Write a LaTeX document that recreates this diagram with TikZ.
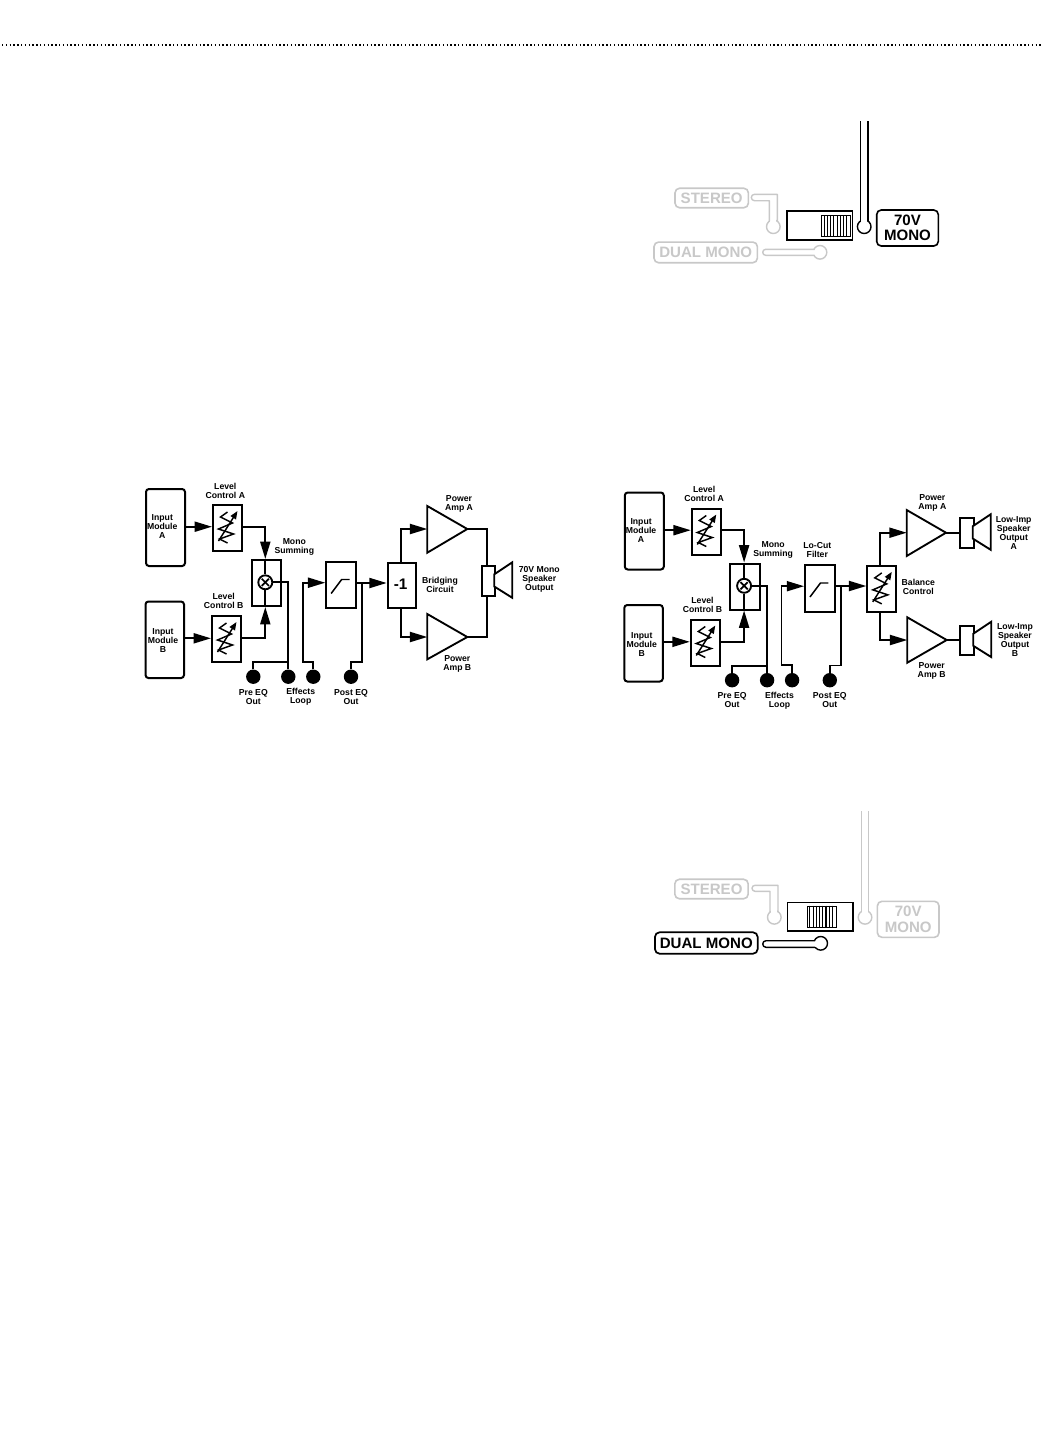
\documentclass[tikz,border=0pt]{standalone}
\usepackage{fontspec}
\setmainfont{Liberation Sans}
\usetikzlibrary{arrows.meta,calc}
\definecolor{faded}{HTML}{C8C8C8}
\tikzset{
  px/.style={x=0.75pt,y=-0.75pt},
  wire/.style={line width=1.45pt,line join=miter,line cap=butt},
  flow/.style={wire,-{Triangle[length=13pt,width=7.5pt]}},
  blockbox/.style={draw,line width=1.5pt,fill=white,inner sep=0pt},
  module/.style={draw,line width=1.5pt,rounded corners=2.2pt,fill=white,inner sep=0pt},
  amp/.style={draw,line width=1.4pt,fill=white,line join=miter},
  jack/.style={circle,fill=black,draw=none,minimum size=10.8pt,inner sep=0pt},
  lab/.style={font=\fontsize{6.5}{6.75}\selectfont\bfseries,align=center,inner sep=0pt,text=black},
  sumring/.style={circle,draw,line width=1.4pt,fill=white,minimum size=10.5pt,inner sep=0pt},
  tag/.style={draw,rounded corners=3.4pt,line width=1.2pt,inner sep=0pt,align=center,
     font=\fontsize{11.3}{11.6}\selectfont\bfseries},
  tube/.style={line width=1.05pt,line join=round},
  ring/.style={circle,draw,line width=1.05pt,fill=white,minimum size=10.2pt,inner sep=0pt},
  gapmask/.style={draw=white,line width=4.7pt},
  switchbody/.style={draw=black,line width=1.2pt,fill=white,inner sep=0pt},
}
% block at given corners: style, x1,y1,x2,y2, name
\newcommand{\cornerbox}[6][blockbox]{%
  \node[#1,minimum width=#4*0.75pt-#2*0.75pt,minimum height=#5*0.75pt-#3*0.75pt,anchor=north west] (#6) at (#2,#3) {};}
% potentiometer symbol around a node
\newcommand{\potsym}[1]{%
  \draw[line width=1.1pt,line join=miter] ($(#1)+(0,-16)$) -- ++(-7,5) -- ++(12,6) -- ++(-14,6) -- ++(15,5) -- ++(-14,5) -- ++(8,4);
  \draw[line width=1.1pt,-{Triangle[length=6pt,width=4.6pt]}] ($(#1)+(-9,13)$) -- ($(#1)+(10,-17)$);}
% shared front end
\newcommand{\frontend}[1]{%
\begin{scope}[name prefix=#1]
  \cornerbox[module]{145}{488}{184}{565}{inA}
  \cornerbox[module]{144.5}{600.5}{183}{677}{inB}
  \cornerbox{212}{504}{241}{550}{lvA}
  \cornerbox{211}{615}{240}{661}{lvB}
  \cornerbox{250.5}{559}{280}{605}{sumb}
  \cornerbox{325.3}{560.7}{355}{607.3}{filt}
  \node[sumring] (sum) at (265.3,582.3) {};
  \draw[line width=1.3pt] ($(sum)+(-3.6,-3.6)$) -- ($(sum)+(3.6,3.6)$);
  \draw[line width=1.3pt] ($(sum)+(-3.6,3.6)$) -- ($(sum)+(3.6,-3.6)$);
  \node[jack] (pre) at (253.3,676.7) {};
  \node[jack] (fx) at (288.3,676.7) {};
  \node[jack] (ret) at (313.3,676.7) {};
  \node[jack] (post) at (351,676.7) {};
  \potsym{lvA}\potsym{lvB}
  \draw[flow] (inA.east|-0,526.7) -- (lvA.west|-0,526.7);
  \draw[flow] (inB.east|-0,638.3) -- (lvB.west|-0,638.3);
  \draw[wire] (lvA.east|-0,526.7) -| (sum.north|-0,540);
  \draw[flow] (sum.north|-0,540) -- (sum.north|-sumb.north);
  \draw[wire] (lvB.east|-0,638.3) -| (sum.south|-0,622);
  \draw[flow] (sum.south|-0,622) -- (sum.south|-sumb.south);
  \draw[wire] (sumb.north-|sum.north) -- (sum.north);
  \draw[wire] (sumb.south-|sum.south) -- (sum.south);
  \draw[wire] (sum.east) -| (fx.north);
  \draw[wire] (pre.north) |- (288.3,662.3);
  \draw[wire] (ret.north) |- (302.7,661.7) -- (302.7,582.7) -- (309,582.7);
  \draw[flow] (309,582.7) -- (filt.west|-0,582.7);
  \draw[line width=1.1pt] ($(filt)+(-10,8.5)$) -- ($(filt)+(0.5,-5.5)$) -- ($(filt)+(8.5,-5.5)$);
  \draw[wire] (post.north) |- (362.3,662) -- (362.3,583);
  \node[lab] at (225.3,490.5) {Level\\Control A};
  \node[lab] at (223.7,601.2) {Level\\Control B};
  \node[lab] at (162.3,526.7) {Input\\Module\\A};
  \node[lab] at (163,641) {Input\\Module\\B};
  \node[lab] at (294.3,546.5) {Mono\\Summing};
  \node[lab] at (253.3,696.8) {Pre EQ\\Out};
  \node[lab] at (300.7,696.8) {Effects\\Loop};
  \node[lab] at (351,696.8) {Post EQ\\Out};
\end{scope}}
% speaker: name, x1,y1,x2,y2 and horn
\newcommand{\speaker}[5]{%
  \cornerbox{#2}{#3}{#4}{#5}{#1}
  \draw[amp] (#4,#3+9) -- (#4+18,#3-3) -- (#4+18,#5+2.8) -- (#4,#5-8.5) -- cycle;}
% stripe slider
\newcommand{\slider}[5]{%
  \node[draw=black,line width=0.9pt,fill=white,inner sep=0pt,minimum width=#4*0.75pt-#2*0.75pt,minimum height=#5*0.75pt-#3*0.75pt,anchor=north west] (#1) at (#2,#3) {};
  \foreach \i in {1,...,8} \draw[line width=0.8pt] ($(#1.north west)+(\i*3.22,0)$) -- ($(#1.south west)+(\i*3.22,0)$);}
\begin{document}
\begin{tikzpicture}[px]
\useasboundingbox[fill=white] (0,0) rectangle (1044,1440);
\coordinate (ruleL) at (2,45);
\coordinate (ruleR) at (1041,45);
\draw[line width=0.95pt,dash pattern=on 1pt off 1.85pt] (ruleL) -- (ruleR);

% ---------- top switch panel (70V MONO)
\begin{scope}[name prefix=t-]
  \cornerbox[switchbody]{786}{210.3}{851.7}{239}{sw}
  \slider{slide}{821}{215}{850}{235.7}
  \coordinate (pa) at (860.3,121);
  \coordinate (pb) at (868,121);
  \node[ring,draw=black] (rv) at (864.2,226.7) {};
  \draw[gapmask] (864.2,217) -- (864.2,222.5);
  \draw[tube,draw=black] (pa) -- (pa|-0,221);
  \draw[tube,draw=black] (pb) -- (pb|-0,221);
  \node[tag,minimum width=46.2pt,minimum height=27pt] (v) at (907.5,228) {70V\\MONO};
  \node[tag,draw=faded,text=faded,minimum width=55pt,minimum height=14.6pt] (st) at (711.7,198) {STEREO};
  \node[ring,draw=faded] (rs) at (773.3,226.7) {};
  \draw[gapmask] (773.3,217) -- (773.3,222.5);
  \draw[tube,draw=faded] (777.3,221) -- (777.3,194.3) -- (754.5,194.3) arc[start angle=270,end angle=90,radius=3.2] -- (769.3,200.7) -- (769.3,221);
  \node[tag,draw=faded,text=faded,minimum width=77.5pt,minimum height=15.5pt] (dm) at (705.7,252.4) {DUAL MONO};
  \node[ring,draw=faded] (rd) at (820,252.3) {};
  \draw[gapmask,line width=3.6pt] (811,252.3) -- (816,252.3);
  \draw[tube,draw=faded] (814.6,249.3) -- (765.7,249.3) arc[start angle=270,end angle=90,radius=3] -- (814.6,255.3);
\end{scope}

% ---------- left block diagram
\frontend{a-}
\begin{scope}[name prefix=a-]
  \cornerbox{386.7}{561.7}{415}{607.3}{inv}
  \node[font=\fontsize{11.5}{12}\selectfont\bfseries,inner sep=0pt] (invt) at (400.7,584.5) {-1};
  \draw[flow] (a-filt.east|-0,583) -- (a-inv.west|-0,583);
  \coordinate (ta) at (427.3,506); \coordinate (ba) at (427.3,552.7); \coordinate (oa) at (467.3,529);
  \coordinate (tb) at (427.3,614); \coordinate (bb) at (427.3,659.3); \coordinate (ob) at (467.3,637);
  \draw[amp] (ta) -- (oa) -- (ba) -- cycle;
  \draw[amp] (tb) -- (ob) -- (bb) -- cycle;
  \draw[wire] (401,561.7) |- (409,529);
  \draw[flow] (409,529) -- (ta|-oa);
  \draw[wire] (401,607.3) |- (409,637);
  \draw[flow] (409,637) -- (tb|-ob);
  \speaker{spk}{480.7}{565.3}{494.3}{595}
  \draw[wire] (oa) -| (487,565.3);
  \draw[wire] (ob) -| (487,595);
  \node[lab] at (459,503.8) {Power\\Amp A};
  \node[lab] at (457.3,663.8) {Power\\Amp B};
  \node[lab] at (440,584.4) {Bridging\\Circuit};
  \node[lab] at (539.3,579.8) {70V Mono\\Speaker\\Output};
\end{scope}

% ---------- right block diagram
\begin{scope}[shift={(478.8,3.5)}]
\frontend{b-}
\end{scope}
\begin{scope}[name prefix=b-]
  \cornerbox{866.3}{564.7}{895.3}{611}{bal}
  \potsym{b-bal}
  \draw[flow] (b-filt.east|-0,586) -- (b-bal.west|-0,586);
  \coordinate (ta) at (906.7,510); \coordinate (ba) at (906.7,556); \coordinate (oa) at (946,532.7);
  \coordinate (tb) at (907.3,617.3); \coordinate (bb) at (907.3,662.7); \coordinate (ob) at (946.7,640);
  \draw[amp] (ta) -- (oa) -- (ba) -- cycle;
  \draw[amp] (tb) -- (ob) -- (bb) -- cycle;
  \draw[wire] (880.3,564.7) |- (888,532.7);
  \draw[flow] (888,532.7) -- (ta|-oa);
  \draw[wire] (880.3,611) |- (888,640);
  \draw[flow] (888,640) -- (tb|-ob);
  \speaker{spa}{959}{517.3}{972.7}{547}
  \speaker{spb}{959}{624.7}{973.3}{654.3}
  \draw[wire] (oa) -- (spa.west|-oa);
  \draw[wire] (ob) -- (spb.west|-ob);
  \node[lab] at (932.3,502.5) {Power\\Amp A};
  \node[lab] at (931.7,671.2) {Power\\Amp B};
  \node[lab] at (918.3,586.7) {Balance\\Control};
  \node[lab] at (817.3,550.5) {Lo-Cut\\Filter};
  \node[lab] at (1013.7,533.3) {Low-Imp\\Speaker\\Output\\A};
  \node[lab] at (1015,640.5) {Low-Imp\\Speaker\\Output\\B};
\end{scope}

% ---------- bottom switch panel (DUAL MONO)
\begin{scope}[name prefix=d-]
  \cornerbox[switchbody]{786.7}{901.7}{852}{930.3}{sw}
  \slider{slide}{806.7}{905.7}{835.7}{926.7}
  \coordinate (pa) at (861.7,811);
  \coordinate (pb) at (868.3,811);
  \node[ring,draw=faded] (rv) at (865,917.3) {};
  \draw[gapmask,line width=3.8pt] (865,908) -- (865,913);
  \draw[tube,draw=faded] (pa) -- (pa|-0,911.5);
  \draw[tube,draw=faded] (pb) -- (pb|-0,911.5);
  \node[tag,draw=faded,text=faded,minimum width=46.2pt,minimum height=27pt] (v) at (908.2,919.3) {70V\\MONO};
  \node[tag,draw=faded,text=faded,minimum width=55pt,minimum height=14.6pt] (st) at (711.5,889) {STEREO};
  \node[ring,draw=faded] (rs) at (774.3,917.3) {};
  \draw[gapmask] (774,908) -- (774,913);
  \draw[tube,draw=faded] (778,912) -- (778,885.3) -- (755,885.3) arc[start angle=270,end angle=90,radius=3] -- (770,891.3) -- (770,912);
  \node[tag,draw=black,line width=1.3pt,minimum width=77pt,minimum height=16pt] (dm) at (706.3,943) {DUAL MONO};
  \node[ring,draw=black] (rd) at (820.7,943.3) {};
  \draw[gapmask,line width=3.8pt] (811,944) -- (816.5,944);
  \draw[tube,draw=black] (815.2,940.7) -- (766,940.7) arc[start angle=270,end angle=90,radius=3.3] -- (815.2,947.3);
\end{scope}
\end{tikzpicture}
\end{document}
